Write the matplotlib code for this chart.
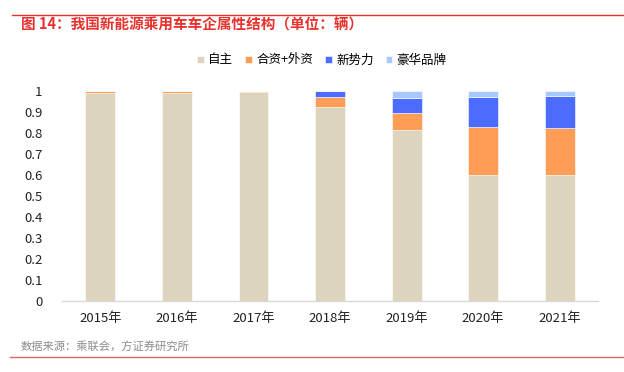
import matplotlib.pyplot as plt
import numpy as np

plt.rcParams['font.family'] = ['Noto Sans CJK SC', 'DejaVu Sans']
plt.rcParams['axes.unicode_minus'] = False

years = ['2015年', '2016年', '2017年', '2018年', '2019年', '2020年', '2021年']
zizhu = [0.989, 0.992, 0.997, 0.925, 0.814, 0.600, 0.599]
hezi = [0.011, 0.008, 0.003, 0.045, 0.081, 0.229, 0.225]
xinshili = [0.000, 0.000, 0.000, 0.030, 0.072, 0.144, 0.152]
haohua = [0.000, 0.000, 0.000, 0.000, 0.033, 0.027, 0.024]

names = ['自主', '合资+外资', '新势力', '豪华品牌']
colors = ['#DDD4BD', '#FF9D57', '#4C6BFF', '#A7C8FF']

fig = plt.figure(figsize=(6.24, 3.72), dpi=100)
ax = fig.add_axes([0.0994, 0.191, 0.859, 0.5645])

x = np.arange(len(years))
bottom = np.zeros(len(years))
for vals, name, c in zip([zizhu, hezi, xinshili, haohua], names, colors):
    ax.bar(x, vals, width=0.39, bottom=bottom, color=c, label=name,
           edgecolor='white', linewidth=0.4)
    bottom += np.array(vals)

ax.set_ylim(0, 1)
ax.set_xlim(-0.5, len(years) - 0.5)
ax.set_yticks(np.arange(0, 1.01, 0.1))
ax.set_yticklabels(['0', '0.1', '0.2', '0.3', '0.4', '0.5', '0.6', '0.7', '0.8', '0.9', '1'])
ax.set_xticks(x)
ax.set_xticklabels(years)
ax.tick_params(axis='both', length=0, labelsize=9.5, colors='#222222')
ax.tick_params(axis='x', pad=8)
ax.tick_params(axis='y', pad=14)
for s in ['top', 'right', 'left']:
    ax.spines[s].set_visible(False)
ax.spines['bottom'].set_color('#D9D9D9')
ax.spines['bottom'].set_linewidth(1)

ax.legend(loc='center', bbox_to_anchor=(322 / 624, (372 - 60) / 372), bbox_transform=fig.transFigure,
          ncol=4, frameon=False, fontsize=9, handlelength=0.5, handleheight=0.5,
          handletextpad=0.35, columnspacing=1.0)

fig.add_artist(plt.Line2D([12 / 624, 1], [1 - 14.5 / 372] * 2, color='#E8322E', linewidth=1))
fig.text(21 / 624, 1 - 25 / 372, '图 14：我国新能源乘用车车企属性结构（单位：辆）',
         color='#E8322E', fontsize=10.5, fontweight='bold', va='center', ha='left')
fig.text(21 / 624, 1 - 347 / 372, '数据来源：乘联会，方证券研究所',
         color='#8C8C8C', fontsize=8.1, va='center', ha='left')
fig.add_artist(plt.Line2D([10 / 624, 1], [1 - 357 / 372] * 2, color='#E06666', linewidth=1))

fig.savefig('out.png', dpi=100)
